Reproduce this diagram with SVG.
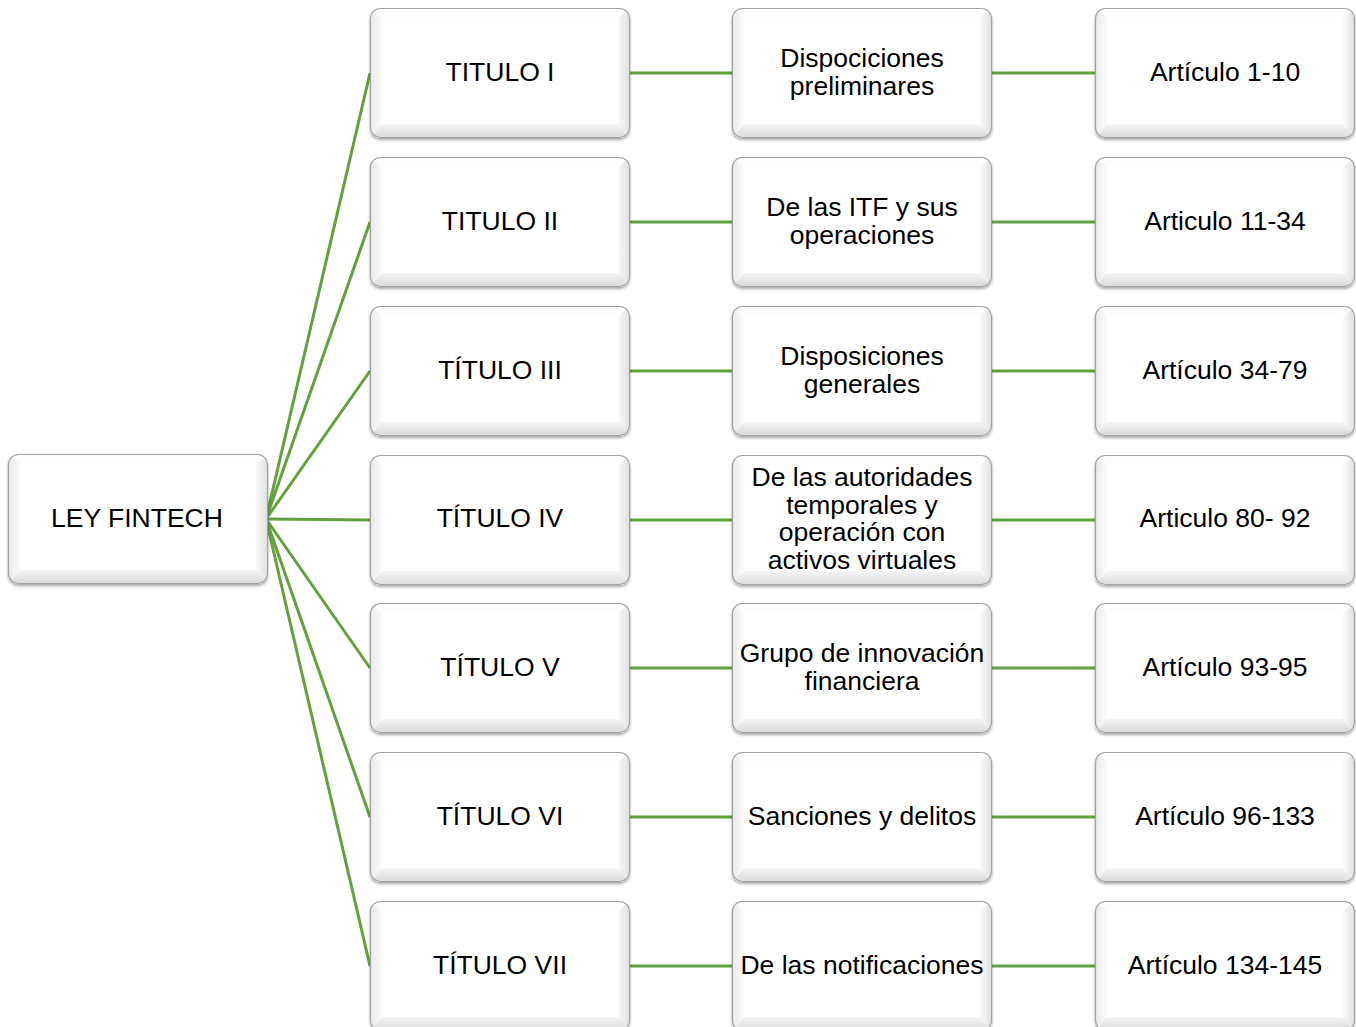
<svg xmlns="http://www.w3.org/2000/svg" xmlns:xlink="http://www.w3.org/1999/xlink" width="1356" height="1027" viewBox="0 0 1356 1027">
  <style>
    .lbl { font-family: "Liberation Sans", Arial, sans-serif; font-size: 26.5px; fill: #000; text-anchor: middle; }
    .link { stroke: #64a03e; stroke-width: 3; fill: none; }
  </style>
  <defs>
    <linearGradient id="gBottom" x1="0" y1="0" x2="0" y2="1">
      <stop offset="0" stop-color="#f5f5f5"/>
      <stop offset="1" stop-color="#d9d9d9"/>
    </linearGradient>
    <linearGradient id="gRight" x1="0" y1="0" x2="1" y2="0">
      <stop offset="0" stop-color="#fafafa"/>
      <stop offset="1" stop-color="#dfdfdf"/>
    </linearGradient>
    <linearGradient id="gLeft" x1="0" y1="0" x2="1" y2="0">
      <stop offset="0" stop-color="#e9e9e9"/>
      <stop offset="1" stop-color="#fbfbfb"/>
    </linearGradient>
    <filter id="shadow" x="-5%" y="-5%" width="110%" height="115%">
      <feGaussianBlur in="SourceAlpha" stdDeviation="1.5"/>
      <feOffset dx="0" dy="1.5"/>
      <feComponentTransfer><feFuncA type="linear" slope="0.35"/></feComponentTransfer>
      <feMerge><feMergeNode/><feMergeNode in="SourceGraphic"/></feMerge>
    </filter>
    <clipPath id="boxClip"><rect x="0" y="0" width="260" height="130" rx="10"/></clipPath>
    <!-- bevelled button shape, 260 x 130 -->
    <g id="bevel">
      <g filter="url(#shadow)">
        <rect x="0" y="0" width="260" height="130" rx="10" fill="#ffffff"/>
      </g>
      <g clip-path="url(#boxClip)">
        <polygon points="0,0 260,0 248,10 12,10" fill="#fdfdfd"/>
        <polygon points="0,0 12,10 12,116 0,130" fill="url(#gLeft)"/>
        <polygon points="260,0 248,10 248,116 260,130" fill="url(#gRight)"/>
        <polygon points="12,116 248,116 260,130 0,130" fill="url(#gBottom)"/>
        <rect x="12" y="10" width="236" height="106" fill="#ffffff"/>
      </g>
      <rect x="0.5" y="0.5" width="259" height="129" rx="10" fill="none" stroke="#a3a3a3" stroke-width="1.2"/>
    </g>
  </defs>

  <rect width="1356" height="1027" fill="#ffffff"/>

  <!-- connectors -->
  <g id="connectors">
    <line class="link" x1="266" y1="519" x2="370" y2="73"/>
    <line class="link" x1="266" y1="519" x2="370" y2="222"/>
    <line class="link" x1="266" y1="519" x2="370" y2="371"/>
    <line class="link" x1="266" y1="519" x2="370" y2="520" stroke-width="3.5"/>
    <line class="link" x1="266" y1="519" x2="370" y2="668"/>
    <line class="link" x1="266" y1="519" x2="370" y2="817"/>
    <line class="link" x1="266" y1="519" x2="370" y2="966"/>

    <line class="link" x1="630" y1="73" x2="732" y2="73"/>
    <line class="link" x1="630" y1="222" x2="732" y2="222"/>
    <line class="link" x1="630" y1="371" x2="732" y2="371"/>
    <line class="link" x1="630" y1="520" x2="732" y2="520"/>
    <line class="link" x1="630" y1="668" x2="732" y2="668"/>
    <line class="link" x1="630" y1="817" x2="732" y2="817"/>
    <line class="link" x1="630" y1="966" x2="732" y2="966"/>

    <line class="link" x1="992" y1="73" x2="1095" y2="73"/>
    <line class="link" x1="992" y1="222" x2="1095" y2="222"/>
    <line class="link" x1="992" y1="371" x2="1095" y2="371"/>
    <line class="link" x1="992" y1="520" x2="1095" y2="520"/>
    <line class="link" x1="992" y1="668" x2="1095" y2="668"/>
    <line class="link" x1="992" y1="817" x2="1095" y2="817"/>
    <line class="link" x1="992" y1="966" x2="1095" y2="966"/>
  </g>

  <!-- root -->
  <g id="ley-fintech">
    <use xlink:href="#bevel" x="8" y="454"/>
    <text class="lbl" x="137" y="527">LEY FINTECH</text>
  </g>

  <!-- titles -->
  <g id="titulo-1"><use xlink:href="#bevel" x="370" y="8"/><text class="lbl" x="500" y="81">TITULO I</text></g>
  <g id="titulo-2"><use xlink:href="#bevel" x="370" y="157"/><text class="lbl" x="500" y="230">TITULO II</text></g>
  <g id="titulo-3"><use xlink:href="#bevel" x="370" y="306"/><text class="lbl" x="500" y="379">TÍTULO III</text></g>
  <g id="titulo-4"><use xlink:href="#bevel" x="370" y="455"/><text class="lbl" x="500" y="527">TÍTULO IV</text></g>
  <g id="titulo-5"><use xlink:href="#bevel" x="370" y="603"/><text class="lbl" x="500" y="676">TÍTULO V</text></g>
  <g id="titulo-6"><use xlink:href="#bevel" x="370" y="752"/><text class="lbl" x="500" y="825">TÍTULO VI</text></g>
  <g id="titulo-7"><use xlink:href="#bevel" x="370" y="901"/><text class="lbl" x="500" y="974">TÍTULO VII</text></g>

  <!-- subjects -->
  <g id="tema-1"><use xlink:href="#bevel" x="732" y="8"/>
    <text class="lbl" x="862" y="67">Dispociciones</text><text class="lbl" x="862" y="95">preliminares</text></g>
  <g id="tema-2"><use xlink:href="#bevel" x="732" y="157"/>
    <text class="lbl" x="862" y="216">De las ITF y sus</text><text class="lbl" x="862" y="244">operaciones</text></g>
  <g id="tema-3"><use xlink:href="#bevel" x="732" y="306"/>
    <text class="lbl" x="862" y="365">Disposiciones</text><text class="lbl" x="862" y="393">generales</text></g>
  <g id="tema-4"><use xlink:href="#bevel" x="732" y="455"/>
    <text class="lbl" x="862" y="486">De las autoridades</text><text class="lbl" x="862" y="514">temporales y</text>
    <text class="lbl" x="862" y="541">operación con</text><text class="lbl" x="862" y="569">activos virtuales</text></g>
  <g id="tema-5"><use xlink:href="#bevel" x="732" y="603"/>
    <text class="lbl" x="862" y="662">Grupo de innovación</text><text class="lbl" x="862" y="690">financiera</text></g>
  <g id="tema-6"><use xlink:href="#bevel" x="732" y="752"/>
    <text class="lbl" x="862" y="825">Sanciones y delitos</text></g>
  <g id="tema-7"><use xlink:href="#bevel" x="732" y="901"/>
    <text class="lbl" x="862" y="974">De las notificaciones</text></g>

  <!-- articles -->
  <g id="articulo-1"><use xlink:href="#bevel" x="1095" y="8"/><text class="lbl" x="1225" y="81">Artículo 1-10</text></g>
  <g id="articulo-2"><use xlink:href="#bevel" x="1095" y="157"/><text class="lbl" x="1225" y="230">Articulo 11-34</text></g>
  <g id="articulo-3"><use xlink:href="#bevel" x="1095" y="306"/><text class="lbl" x="1225" y="379">Artículo 34-79</text></g>
  <g id="articulo-4"><use xlink:href="#bevel" x="1095" y="455"/><text class="lbl" x="1225" y="527">Articulo 80- 92</text></g>
  <g id="articulo-5"><use xlink:href="#bevel" x="1095" y="603"/><text class="lbl" x="1225" y="676">Artículo 93-95</text></g>
  <g id="articulo-6"><use xlink:href="#bevel" x="1095" y="752"/><text class="lbl" x="1225" y="825">Artículo 96-133</text></g>
  <g id="articulo-7"><use xlink:href="#bevel" x="1095" y="901"/><text class="lbl" x="1225" y="974">Artículo 134-145</text></g>
</svg>
